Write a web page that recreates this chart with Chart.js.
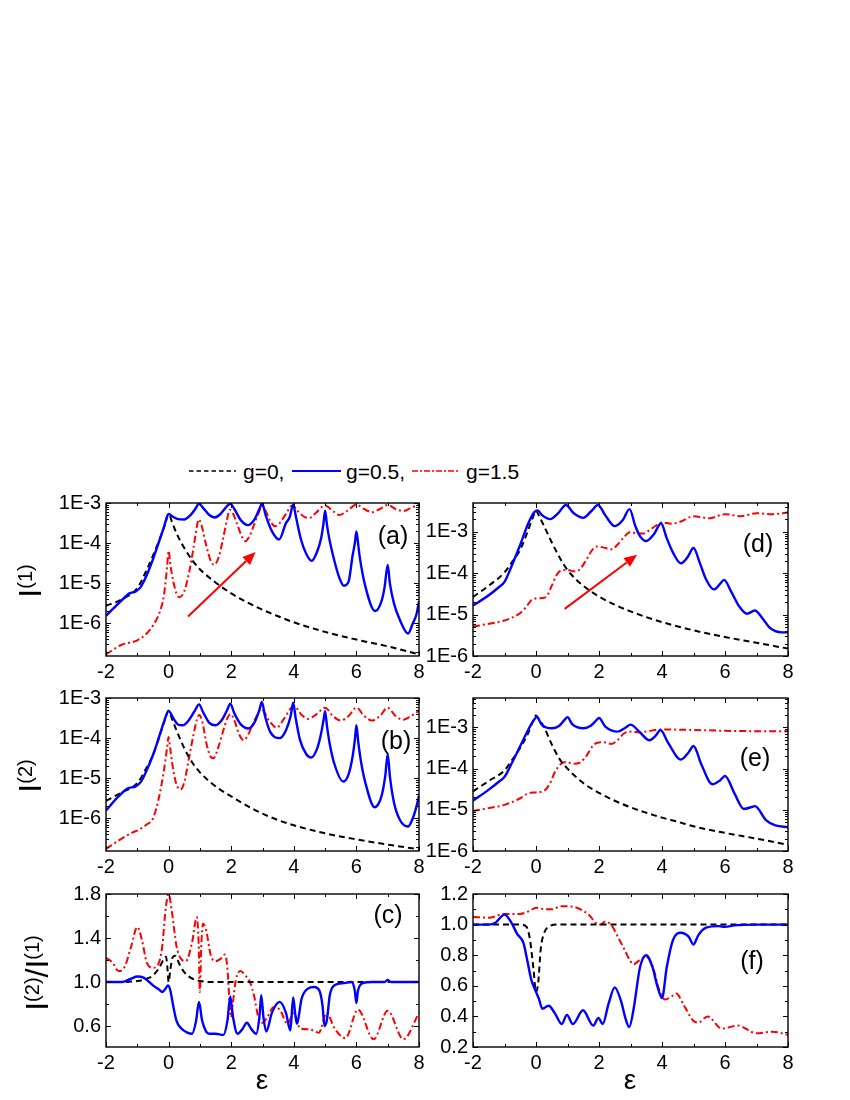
<!DOCTYPE html>
<html><head><meta charset="utf-8">
<script src="https://cdn.jsdelivr.net/npm/chart.js@4.4.0/dist/chart.umd.min.js"></script>
<style>
body{margin:0;background:#fff;}
#wrap{position:relative;width:850px;height:1100px;background:#fff;font-family:"Liberation Sans",Arial,sans-serif;color:#000;overflow:hidden;}
canvas{position:absolute;}
.t{position:absolute;line-height:1;white-space:nowrap;}
.yt{position:absolute;font-size:32px;line-height:1;white-space:nowrap;transform:translate(-50%,-50%) rotate(-90deg);}
.sp{font-size:20px;position:relative;top:-9px;}
.pl{position:absolute;font-size:25px;line-height:1;width:60px;text-align:center;}
</style></head><body><div id="wrap">
<svg style="position:absolute;left:0;top:456px" width="850" height="30">
 <line x1="189" y1="15" x2="236" y2="15" stroke="#000" stroke-width="1.6" stroke-dasharray="4.5 3"/>
 <line x1="292" y1="15" x2="341" y2="15" stroke="#0000ff" stroke-width="2"/>
 <line x1="412" y1="15" x2="460" y2="15" stroke="#ff0000" stroke-width="1.6" stroke-dasharray="6 2 2 2"/>
</svg>
<div class="t" style="left:243px;top:461px;font-size:21px">g=0,</div>
<div class="t" style="left:346px;top:461px;font-size:21px">g=0.5,</div>
<div class="t" style="left:466px;top:461px;font-size:21px">g=1.5</div>

<canvas id="cA" width="395" height="200" style="left:36px;top:486px"></canvas>
<canvas id="cB" width="395" height="200" style="left:36px;top:681px"></canvas>
<canvas id="cC" width="395" height="200" style="left:36px;top:877px"></canvas>
<canvas id="cD" width="397" height="200" style="left:403px;top:486px"></canvas>
<canvas id="cE" width="397" height="200" style="left:403px;top:681px"></canvas>
<canvas id="cF" width="397" height="200" style="left:403px;top:877px"></canvas>

<div class="yt" style="left:30px;top:581px">I<span class="sp">(1)</span></div>
<div class="yt" style="left:30px;top:776px">I<span class="sp">(2)</span></div>
<div class="yt" style="left:37px;top:973px">I<span class="sp">(2)</span>/I<span class="sp">(1)</span></div>

<div class="pl" style="left:363px;top:523px">(a)</div>
<div class="pl" style="left:366px;top:728px">(b)</div>
<div class="pl" style="left:358px;top:902px">(c)</div>
<div class="pl" style="left:728px;top:531px">(d)</div>
<div class="pl" style="left:725px;top:745px">(e)</div>
<div class="pl" style="left:722px;top:948px">(f)</div>

<div class="t" style="left:248px;top:1066px;font-size:28px;width:28px;text-align:center">ε</div>
<div class="t" style="left:616px;top:1066px;font-size:28px;width:28px;text-align:center">ε</div>
</div>
<script>
// ---------- axis ticks ----------
const xTicks = [-2, 0, 2, 4, 6, 8];
const xMinor = [-1, 1, 3, 5, 7];
const yTicksLog = [1e-6, 1e-5, 1e-4, 1e-3];
const yTicksC = [0.6, 1.0, 1.4, 1.8];
const yMinorC = [0.8, 1.2, 1.6];
const yTicksF = [0.2, 0.4, 0.6, 0.8, 1.0, 1.2];
const yMinorF = [0.3, 0.5, 0.7, 0.9, 1.1];

// ---------- panel (a): I(1) ----------
const a_eps_g0 = [-2,-1.5,-1,-0.75,-0.5,-0.25,-0.1,0,0.1,0.25,0.5,0.75,1,1.5,2,2.5,3,3.5,4,5,6,7,8];
const a_I_g0 = [2.75e-6,3.98e-6,7.59e-6,1.78e-5,4.9e-5,1.48e-4,3.16e-4,5.37e-4,3.55e-4,1.78e-4,7.59e-5,3.8e-5,2.24e-5,1.05e-5,5.62e-6,3.39e-6,2.19e-6,1.51e-6,1.07e-6,6.17e-7,3.98e-7,2.69e-7,1.7e-7];
const a_eps_g05 = [-2,-1.6,-1.25,-1.05,-0.9,-0.7,-0.5,-0.3,-0.15,0,0.15,0.3,0.5,0.7,0.85,0.97,1.1,1.3,1.47,1.65,1.82,1.97,2.1,2.3,2.53,2.75,2.9,2.99,3.1,3.3,3.53,3.75,3.87,3.98,4.07,4.23,4.4,4.57,4.75,4.88,4.95,5.0,5.06,5.15,5.3,5.45,5.6,5.75,5.88,5.95,6.0,6.06,6.1,6.3,6.6,6.8,6.9,7.0,7.07,7.2,7.4,7.65,7.8,7.92,8.0];
const a_I_g05 = [1.55e-6,3.16e-6,5.62e-6,6.31e-6,7.94e-6,1.58e-5,3.98e-5,1.12e-4,2.51e-4,5.37e-4,4.47e-4,3.98e-4,3.89e-4,5.01e-4,7.08e-4,9.55e-4,7.59e-4,5.01e-4,4.37e-4,5.25e-4,7.59e-4,9.55e-4,7.08e-4,3.8e-4,2.82e-4,3.98e-4,7.08e-4,9.77e-4,5.01e-4,2.0e-4,1.23e-4,3.16e-4,4.47e-4,9.12e-4,4.47e-4,1.23e-4,5.37e-5,3.63e-5,6.31e-5,1.41e-4,3.16e-4,6.46e-4,2.82e-4,1.12e-4,3.55e-5,1.41e-5,8.71e-6,1.1e-5,5.01e-5,1.0e-4,1.95e-4,8.91e-5,4.9e-5,7.59e-6,2.04e-6,3.55e-6,7.94e-6,2.88e-5,1.0e-5,3.16e-6,1.17e-6,5.62e-7,1.0e-6,1.7e-6,3.55e-6];
const a_eps_g15 = [-2,-1.5,-1.1,-1.0,-0.7,-0.5,-0.3,-0.15,-0.05,0,0.05,0.15,0.25,0.35,0.5,0.65,0.8,0.9,0.96,1.05,1.2,1.35,1.45,1.6,1.75,1.87,1.95,2.05,2.2,2.35,2.45,2.6,2.75,2.9,3.0,3.1,3.25,3.4,3.55,3.75,3.95,4.15,4.35,4.5,4.7,5.0,5.25,5.45,5.7,6.0,6.25,6.5,6.75,7.0,7.25,7.5,7.75,8.0];
const a_I_g15 = [1.7e-7,2.95e-7,3.55e-7,3.8e-7,5.62e-7,8.91e-7,1.78e-6,5.01e-6,2.51e-5,6.46e-5,3.16e-5,1.12e-5,5.62e-6,4.47e-6,6.31e-6,1.78e-5,7.94e-5,2.51e-4,3.89e-4,2.82e-4,8.91e-5,3.55e-5,2.88e-5,4.47e-5,1.41e-4,3.98e-4,6.76e-4,5.62e-4,2.82e-4,1.41e-4,1.12e-4,1.58e-4,3.16e-4,6.31e-4,8.32e-4,6.31e-4,3.55e-4,2.63e-4,3.16e-4,5.37e-4,8.71e-4,6.03e-4,4.47e-4,4.27e-4,5.62e-4,8.71e-4,6.31e-4,5.01e-4,6.31e-4,9.12e-4,7.08e-4,5.89e-4,7.08e-4,8.91e-4,7.08e-4,6.31e-4,7.59e-4,9.12e-4];
const arrowA = [0.62, 1.5e-6, 2.78, 6.0e-5];

// ---------- panel (b): I(2) ----------
const b_eps_g0 = [-2,-1.5,-1,-0.75,-0.5,-0.25,-0.1,0,0.1,0.25,0.5,0.75,1,1.5,2,2.5,3,3.5,4,5,6,7,8];
const b_I_g0 = [2.75e-6,4.47e-6,7.59e-6,1.58e-5,3.8e-5,1.41e-4,3.16e-4,4.79e-4,3.16e-4,1.58e-4,5.62e-5,2.51e-5,1.41e-5,6.31e-6,3.55e-6,2.09e-6,1.32e-6,9.12e-7,6.76e-7,4.27e-7,3.02e-7,2.24e-7,1.7e-7];
const b_eps_g05 = [-2,-1.6,-1.3,-1.05,-0.9,-0.7,-0.5,-0.3,-0.15,0,0.15,0.3,0.45,0.65,0.85,0.97,1.1,1.3,1.5,1.7,1.87,1.97,2.1,2.3,2.55,2.75,2.9,2.98,3.08,3.25,3.55,3.75,3.9,3.98,4.06,4.2,4.4,4.56,4.75,4.88,4.95,5.0,5.06,5.15,5.3,5.58,5.75,5.88,5.95,6.0,6.06,6.15,6.3,6.58,6.8,6.92,7.0,7.07,7.2,7.4,7.65,7.8,7.92,8.0];
const b_I_g05 = [1.58e-6,3.55e-6,5.62e-6,6.31e-6,7.94e-6,1.58e-5,3.8e-5,1.1e-4,2.51e-4,4.79e-4,3.16e-4,2.19e-4,2.09e-4,2.82e-4,5.01e-4,6.92e-4,4.47e-4,2.4e-4,2.09e-4,2.82e-4,5.01e-4,7.24e-4,4.17e-4,2.24e-4,1.74e-4,2.51e-4,5.01e-4,7.94e-4,3.55e-4,1.41e-4,1.0e-4,1.58e-4,3.55e-4,7.59e-4,3.16e-4,8.91e-5,3.98e-5,3.31e-5,5.62e-5,1.41e-4,2.82e-4,4.68e-4,2.0e-4,7.08e-5,2.24e-5,8.32e-6,1.26e-5,3.55e-5,8.91e-5,2.09e-4,7.94e-5,2.51e-5,7.08e-6,1.91e-6,3.55e-6,1.12e-5,3.98e-5,1.12e-5,2.51e-6,8.91e-7,6.31e-7,1.0e-6,2.0e-6,3.72e-6];
const b_eps_g15 = [-2,-1.5,-1.1,-1.0,-0.7,-0.5,-0.3,-0.15,-0.05,0,0.05,0.15,0.25,0.38,0.5,0.65,0.8,0.9,0.98,1.08,1.2,1.33,1.43,1.6,1.75,1.88,1.98,2.1,2.25,2.4,2.55,2.75,2.97,3.2,3.45,3.7,4.0,4.25,4.45,4.7,5.0,5.25,5.5,5.75,6.0,6.25,6.5,6.75,7.0,7.25,7.5,7.75,8.0];
const b_I_g15 = [1.74e-7,3.16e-7,4.68e-7,5.01e-7,7.08e-7,1.0e-6,3.55e-6,1.58e-5,5.62e-5,1.07e-4,5.62e-5,1.58e-5,7.08e-6,5.25e-6,7.94e-6,3.16e-5,1.26e-4,2.82e-4,3.8e-4,2.51e-4,7.94e-5,3.55e-5,3.16e-5,6.31e-5,1.58e-4,3.16e-4,3.98e-4,2.82e-4,1.26e-4,8.91e-5,1.26e-4,2.82e-4,5.25e-4,2.82e-4,1.82e-4,3.16e-4,6.31e-4,3.8e-4,3.02e-4,3.8e-4,5.75e-4,3.55e-4,2.75e-4,3.55e-4,5.75e-4,3.55e-4,2.75e-4,3.55e-4,5.75e-4,3.55e-4,2.88e-4,3.55e-4,4.79e-4];

// ---------- panel (c): I(2)/I(1) ----------
const c_eps_g0 = [-2,-1.5,-1,-0.7,-0.5,-0.3,-0.15,-0.08,-0.03,0,0.05,0.12,0.2,0.35,0.5,0.7,1,1.5,2,4,6,8];
const c_R_g0 = [1.0,1.0,1.01,1.03,1.06,1.13,1.21,1.23,1.1,1.0,1.1,1.22,1.24,1.16,1.09,1.04,1.01,1.0,1.0,1.0,1.0,1.0];
const c_eps_g05 = [-2,-1.5,-1.2,-1,-0.8,-0.5,-0.3,-0.2,-0.1,-0.02,0.05,0.15,0.25,0.4,0.6,0.75,0.88,0.97,1.07,1.2,1.3,1.5,1.75,1.88,1.97,2.06,2.2,2.35,2.5,2.65,2.8,2.9,2.96,3.03,3.12,3.3,3.55,3.75,3.89,3.98,4.05,4.1,4.25,4.45,4.65,4.82,4.92,4.98,5.06,5.15,5.3,5.6,5.85,5.95,6.0,6.05,6.2,6.5,6.9,7.0,7.1,8.0];
const c_R_g05 = [1.0,1.0,1.03,1.05,1.04,0.97,0.93,0.91,0.94,0.97,0.93,0.78,0.65,0.58,0.54,0.53,0.65,0.82,0.65,0.55,0.53,0.53,0.52,0.65,0.87,0.68,0.53,0.57,0.63,0.57,0.53,0.68,0.88,0.68,0.55,0.72,0.82,0.72,0.56,0.86,0.7,0.62,0.85,0.94,0.955,0.92,0.78,0.6,0.66,0.88,0.97,0.99,1.0,0.92,0.81,0.92,0.99,1.0,1.0,1.02,1.0,1.0];
const c_eps_g15 = [-2,-1.8,-1.6,-1.4,-1.2,-1.0,-0.85,-0.7,-0.5,-0.35,-0.2,-0.1,0,0.1,0.25,0.4,0.55,0.75,0.9,0.96,1.0,1.04,1.1,1.2,1.35,1.5,1.7,1.8,1.88,1.95,2.0,2.05,2.15,2.3,2.45,2.6,2.75,2.85,3.0,3.15,3.35,3.55,3.8,4.0,4.2,4.5,4.8,5.05,5.3,5.65,6.05,6.55,7.0,7.5,8.0];
const c_R_g15 = [1.22,1.18,1.10,1.14,1.32,1.50,1.38,1.18,1.13,1.15,1.33,1.65,1.80,1.65,1.33,1.21,1.19,1.36,1.59,1.35,0.91,1.3,1.53,1.47,1.24,1.19,1.22,1.25,1.12,0.8,0.68,0.8,1.02,1.10,1.06,1.0,0.85,0.7,0.63,0.68,0.77,0.75,0.62,0.72,0.58,0.57,0.54,0.72,0.58,0.49,0.75,0.48,0.74,0.48,0.72];

// ---------- panel (d): I(1) ----------
const d_eps_g0 = [-2,-1.5,-1,-0.75,-0.5,-0.25,-0.1,0,0.1,0.25,0.5,0.75,1,1.5,2,2.5,3,3.5,4,5,6,7,8];
const d_I_g0 = [2.69e-5,5.01e-5,1.05e-4,1.91e-4,3.72e-4,1.1e-3,2.24e-3,3.24e-3,2.4e-3,1.41e-3,5.62e-4,2.4e-4,1.2e-4,5.01e-5,2.75e-5,1.74e-5,1.2e-5,8.71e-6,6.61e-6,4.17e-6,2.88e-6,2.09e-6,1.51e-6];
const d_eps_g05 = [-2,-1.5,-1.2,-1.0,-0.75,-0.5,-0.25,-0.05,0.05,0.2,0.45,0.7,0.95,1.2,1.5,1.75,1.97,2.2,2.5,2.75,2.97,3.15,3.3,3.5,3.75,3.97,4.15,4.35,4.6,4.82,5.0,5.2,5.4,5.65,5.85,5.97,6.2,6.45,6.7,6.95,7.2,7.4,7.6,7.8,8.0];
const d_I_g05 = [1.66e-5,2.95e-5,4.47e-5,6.17e-5,1.66e-4,4.9e-4,1.58e-3,3.02e-3,3.31e-3,2.51e-3,2.04e-3,2.82e-3,4.47e-3,2.82e-3,2.19e-3,3.16e-3,4.47e-3,2.51e-3,1.38e-3,1.91e-3,3.55e-3,1.41e-3,7.94e-4,6.03e-4,8.91e-4,1.62e-3,7.08e-4,3.16e-4,1.74e-4,2.51e-4,4.07e-4,1.78e-4,7.08e-5,4.07e-5,5.62e-5,6.92e-5,3.55e-5,1.58e-5,1.05e-5,1.26e-5,7.94e-6,5.01e-6,3.98e-6,3.72e-6,3.72e-6];
const d_eps_g15 = [-2,-1.5,-1,-0.5,-0.3,-0.15,0,0.2,0.35,0.5,0.65,0.8,1.0,1.2,1.35,1.6,1.8,1.95,2.15,2.4,2.6,2.8,3.0,3.2,3.4,3.6,3.8,4.0,4.3,4.6,5.0,5.5,6.0,6.5,7.0,7.5,8.0];
const d_I_g15 = [5.13e-6,6.03e-6,7.24e-6,1.1e-5,1.58e-5,2.24e-5,2.45e-5,2.51e-5,2.82e-5,5.01e-5,8.91e-5,1.17e-4,1.2e-4,1.12e-4,1.17e-4,2.14e-4,3.8e-4,4.47e-4,4.17e-4,3.8e-4,5.01e-4,7.59e-4,1.0e-3,9.12e-4,9.12e-4,1.1e-3,1.41e-3,1.7e-3,1.58e-3,1.78e-3,2.4e-3,2.14e-3,2.69e-3,2.4e-3,2.82e-3,2.69e-3,2.95e-3];
const arrowD = [0.91, 1.38e-5, 3.21, 2.82e-4];

// ---------- panel (e): I(2) ----------
const e_eps_g0 = [-2,-1.5,-1,-0.75,-0.5,-0.25,-0.1,0,0.1,0.25,0.5,0.75,1,1.5,2,2.5,3,3.5,4,4.5,5,6,7,8];
const e_I_g0 = [2.82e-5,5.01e-5,9.12e-5,1.66e-4,3.24e-4,7.24e-4,1.41e-3,1.95e-3,1.58e-3,1.05e-3,3.89e-4,1.7e-4,1.0e-4,4.47e-5,2.57e-5,1.66e-5,1.15e-5,8.51e-6,6.46e-6,5.13e-6,3.98e-6,2.75e-6,2.0e-6,1.41e-6];
const e_eps_g05 = [-2,-1.5,-1.2,-1,-0.75,-0.5,-0.25,-0.05,0.02,0.2,0.5,0.75,0.92,1.0,1.15,1.5,1.75,1.92,2.0,2.2,2.6,2.85,3.0,3.3,3.6,3.8,3.95,4.2,4.6,4.85,5.0,5.25,5.6,5.85,6.0,6.3,6.6,6.85,6.95,7.3,7.6,8.0];
const e_I_g05 = [1.66e-5,3.09e-5,4.68e-5,6.31e-5,1.45e-4,3.55e-4,8.71e-4,1.58e-3,1.78e-3,1.12e-3,9.55e-4,1.12e-3,1.58e-3,1.78e-3,1.2e-3,9.55e-4,1.12e-3,1.51e-3,1.7e-3,1.05e-3,7.94e-4,1.0e-3,1.17e-3,7.59e-4,4.9e-4,6.31e-4,8.71e-4,4.17e-4,1.66e-4,2.51e-4,3.55e-4,1.26e-4,4.17e-5,5.25e-5,6.61e-5,2.51e-5,1.05e-5,1.17e-5,1.23e-5,5.62e-6,4.17e-6,3.8e-6];
const e_eps_g15 = [-2,-1.5,-1,-0.5,-0.3,-0.1,0.1,0.3,0.45,0.6,0.8,0.95,1.2,1.4,1.6,1.8,1.95,2.15,2.4,2.6,2.8,3.0,3.3,3.5,3.8,4.2,5.0,6.0,7.0,8.0];
const e_I_g15 = [9.33e-6,1.1e-5,1.32e-5,1.91e-5,2.4e-5,2.63e-5,2.69e-5,3.09e-5,4.47e-5,8.32e-5,1.32e-4,1.45e-4,1.32e-4,1.41e-4,2.04e-4,3.55e-4,4.27e-4,4.37e-4,3.98e-4,5.01e-4,7.24e-4,7.94e-4,7.59e-4,7.94e-4,8.71e-4,8.91e-4,8.71e-4,8.32e-4,8.13e-4,8.13e-4];

// ---------- panel (f): I(2)/I(1) ----------
const f_eps_g0 = [-2,-1,-0.5,-0.3,-0.19,-0.08,0,0.07,0.15,0.25,0.44,0.66,1,2,4,6,8];
const f_R_g0 = [1.0,1.0,1.0,0.985,0.9,0.71,0.56,0.62,0.84,0.94,0.99,1.0,1.0,1.0,1.0,1.0,1.0];
const f_eps_g05 = [-2,-1.5,-1.3,-1.0,-0.8,-0.6,-0.4,-0.3,-0.15,0,0.1,0.2,0.4,0.6,0.82,0.98,1.17,1.49,1.82,1.98,2.12,2.3,2.5,2.7,2.85,2.96,3.1,3.3,3.5,3.7,3.85,4.0,4.15,4.35,4.6,4.85,5.0,5.15,5.4,5.8,6.0,6.3,7,8];
const f_R_g05 = [1.0,1.0,1.01,1.065,1.02,0.94,0.88,0.79,0.64,0.56,0.51,0.45,0.47,0.42,0.35,0.41,0.35,0.44,0.34,0.39,0.35,0.48,0.59,0.5,0.38,0.33,0.45,0.72,0.80,0.72,0.6,0.52,0.72,0.9,0.947,0.92,0.87,0.93,0.98,0.99,0.985,0.995,1.0,1.0];
const f_eps_g15 = [-2,-1.5,-1.0,-0.5,-0.2,0,0.3,0.5,0.8,1.0,1.3,1.5,1.7,1.9,2.05,2.2,2.4,2.6,2.8,3.0,3.1,3.3,3.5,3.7,3.9,4.0,4.1,4.3,4.45,4.7,5.0,5.15,5.45,5.9,6.4,7.0,7.5,8.0];
const f_R_g15 = [1.05,1.045,1.07,1.07,1.09,1.11,1.10,1.10,1.12,1.12,1.11,1.09,1.06,1.01,1.0,1.02,0.995,0.92,0.84,0.76,0.74,0.77,0.79,0.73,0.58,0.53,0.51,0.53,0.55,0.47,0.37,0.36,0.40,0.32,0.34,0.29,0.30,0.28];

// ---------- drawing ----------
Chart.defaults.font.family = '"Liberation Sans", Arial, sans-serif';
Chart.defaults.color = '#000';

const STY = {
  g0:  {borderColor:'#000000', borderDash:[6,4], borderWidth:2},
  g05: {borderColor:'#0000ff', borderDash:[], borderWidth:2.4},
  g15: {borderColor:'#ff0000', borderDash:[7,3,2,3], borderWidth:2}
};
function ds(xs, ys, key){
  return Object.assign({
    data: xs.map((x,i)=>({x:x, y:ys[i]})),
    pointRadius:0, fill:false, cubicInterpolationMode:'monotone', tension:0.4
  }, STY[key]);
}

function logMinor(min, max){
  const out = [];
  for (let d = Math.floor(Math.log10(min)); d <= Math.ceil(Math.log10(max)); d++){
    for (let m = 2; m <= 9; m++){
      const v = m * Math.pow(10, d);
      if (v > min && v < max) out.push(v);
    }
  }
  return out;
}

const framePlugin = {
  id:'frame',
  afterDatasetsDraw(chart, args, o){
    const ctx = chart.ctx, a = chart.chartArea, sx = chart.scales.x, sy = chart.scales.y;
    ctx.save();
    if (o.arrow){
      const [x0,y0,x1,y1] = o.arrow;
      const px0 = sx.getPixelForValue(x0), py0 = sy.getPixelForValue(y0);
      const px1 = sx.getPixelForValue(x1), py1 = sy.getPixelForValue(y1);
      const ang = Math.atan2(py1-py0, px1-px0);
      const hl = 13, hw = 5.5;
      const bx = px1 - hl*Math.cos(ang), by = py1 - hl*Math.sin(ang);
      ctx.setLineDash([]);
      ctx.strokeStyle = '#ff0000'; ctx.fillStyle = '#ff0000'; ctx.lineWidth = 2;
      ctx.beginPath(); ctx.moveTo(px0,py0); ctx.lineTo(bx,by); ctx.stroke();
      ctx.beginPath(); ctx.moveTo(px1,py1);
      ctx.lineTo(bx + hw*Math.sin(ang), by - hw*Math.cos(ang));
      ctx.lineTo(bx - hw*Math.sin(ang), by + hw*Math.cos(ang));
      ctx.closePath(); ctx.fill();
    }
    ctx.setLineDash([]);
    ctx.strokeStyle = '#000'; ctx.lineWidth = 1.4;
    ctx.strokeRect(a.left, a.top, a.right-a.left, a.bottom-a.top);
    ctx.lineWidth = 1;
    ctx.beginPath();
    const xs = sx.ticks.map(t=>[t.value,5]).concat(o.xMinor.map(v=>[v,3]));
    xs.forEach(([v,len])=>{
      const p = Math.round(sx.getPixelForValue(v)) + 0.5;
      ctx.moveTo(p, a.bottom); ctx.lineTo(p, a.bottom-len);
      ctx.moveTo(p, a.top); ctx.lineTo(p, a.top+len);
    });
    const ys = sy.ticks.map(t=>[t.value,5]).concat(o.yMinor.map(v=>[v,3]));
    ys.forEach(([v,len])=>{
      const p = Math.round(sy.getPixelForValue(v)) + 0.5;
      ctx.moveTo(a.left, p); ctx.lineTo(a.left+len, p);
      ctx.moveTo(a.right, p); ctx.lineTo(a.right-len, p);
    });
    ctx.stroke();
    ctx.restore();
  }
};

function panel(id, series, yType, yMin, yMax, yTicks, yMinor, fmt, arrow){
  return new Chart(document.getElementById(id), {
    type:'line',
    data:{datasets: series},
    options:{
      responsive:false, animation:false, devicePixelRatio:1,
      layout:{padding:{top:12, right:12, left:0, bottom:0}},
      plugins:{legend:{display:false}, tooltip:{enabled:false},
               frame:{xMinor:xMinor, yMinor:yMinor, arrow:arrow}},
      scales:{
        x:{type:'linear', min:-2, max:8,
           afterBuildTicks: s=>{ s.ticks = xTicks.map(v=>({value:v})); },
           afterFit: s=>{ s.height = 30; },
           ticks:{padding:4, font:{size:20}, color:'#000', maxRotation:0, autoSkip:false,
                  callback: v=>String(v)},
           grid:{display:false, drawTicks:false}, border:{display:false}},
        y:{type:yType, min:yMin, max:yMax,
           afterBuildTicks: s=>{ s.ticks = yTicks.map(v=>({value:v})); },
           afterFit: s=>{ s.width = 70; },
           ticks:{padding:5, font:{size:20}, color:'#000', autoSkip:false, callback: fmt},
           grid:{display:false, drawTicks:false}, border:{display:false}}
      }
    },
    plugins:[framePlugin]
  });
}

const fmtLog = v => '1E' + Math.round(Math.log10(v));
const fmtLin = v => Number(v).toFixed(1);

panel('cA', [ds(a_eps_g05,a_I_g05,'g05'), ds(a_eps_g0,a_I_g0,'g0'), ds(a_eps_g15,a_I_g15,'g15')],
      'logarithmic', 1.55e-7, 1e-3, yTicksLog, logMinor(1.55e-7,1e-3), fmtLog, arrowA);
panel('cB', [ds(b_eps_g05,b_I_g05,'g05'), ds(b_eps_g0,b_I_g0,'g0'), ds(b_eps_g15,b_I_g15,'g15')],
      'logarithmic', 1.55e-7, 1e-3, yTicksLog, logMinor(1.55e-7,1e-3), fmtLog, null);
panel('cC', [ds(c_eps_g05,c_R_g05,'g05'), ds(c_eps_g0,c_R_g0,'g0'), ds(c_eps_g15,c_R_g15,'g15')],
      'linear', 0.41, 1.8, yTicksC, yMinorC, fmtLin, null);
panel('cD', [ds(d_eps_g05,d_I_g05,'g05'), ds(d_eps_g0,d_I_g0,'g0'), ds(d_eps_g15,d_I_g15,'g15')],
      'logarithmic', 1e-6, 5.0e-3, yTicksLog, logMinor(1e-6,5.0e-3), fmtLog, arrowD);
panel('cE', [ds(e_eps_g05,e_I_g05,'g05'), ds(e_eps_g0,e_I_g0,'g0'), ds(e_eps_g15,e_I_g15,'g15')],
      'logarithmic', 1e-6, 5.2e-3, yTicksLog, logMinor(1e-6,5.2e-3), fmtLog, null);
panel('cF', [ds(f_eps_g05,f_R_g05,'g05'), ds(f_eps_g0,f_R_g0,'g0'), ds(f_eps_g15,f_R_g15,'g15')],
      'linear', 0.2, 1.2, yTicksF, yMinorF, fmtLin, null);
</script>
</body></html>
